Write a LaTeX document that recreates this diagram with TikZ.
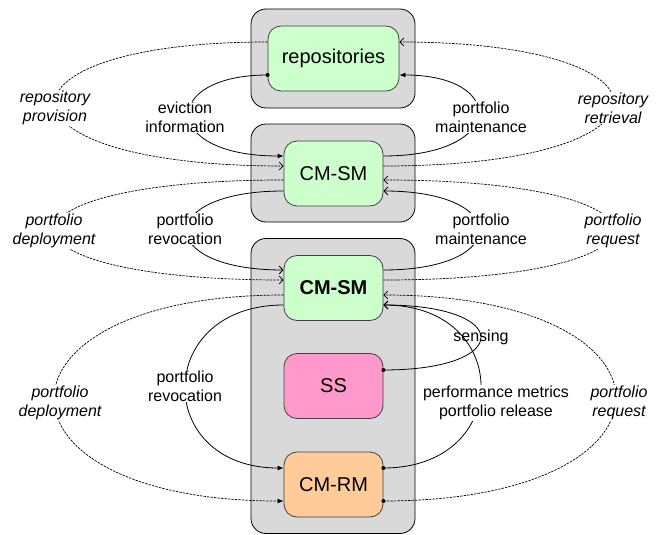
\documentclass[tikz,border=0pt]{standalone}
\usepackage{fontspec}
\setmainfont{Liberation Sans}
\usetikzlibrary{arrows.meta,calc}
\definecolor{boxgray}{HTML}{D9D9D9}
\definecolor{ngreen}{HTML}{CCFFCC}
\definecolor{npink}{HTML}{FF99CC}
\definecolor{norange}{HTML}{FFCC99}
\definecolor{nborder}{HTML}{404040}
\begin{document}
\begin{tikzpicture}[x=1pt,y=-1pt,
 outerbox/.style={draw=black, line width=0.8pt, fill=boxgray, rounded corners=15pt, minimum width=164pt, inner sep=0pt},
 inner/.style={draw=nborder, line width=0.8pt, rounded corners=13pt, minimum width=99pt, minimum height=65pt, font=\fontsize{20}{24}\selectfont, inner sep=0pt},
 conn/.style={line width=0.8pt},
 dconn/.style={line width=0.7pt, dash pattern=on 2.4pt off 1.1pt},
 fa/.style={-{Latex[length=6pt,width=5pt]}},
 oa/.style={-{Straight Barb[length=4pt,width=8pt]}},
 lab/.style={fill=white, align=center, font=\fontsize{16}{19}\selectfont, inner sep=1pt},
 ilab/.style={fill=white, align=center, font=\fontsize{16}{19}\selectfont\itshape, inner sep=1pt},
]
\useasboundingbox (0,0) rectangle (667,535);

% outer boxes
\node[outerbox, minimum height=99pt] (b1) at (333,58.5) {};
\node[outerbox, minimum height=98pt] (b2) at (333,173) {};
\node[outerbox, minimum height=295pt] (b3) at (333,386) {};

% inner nodes
\node[inner, fill=ngreen, minimum width=131pt] (repo) at (333.5,58.5) {repositories};
\node[inner, fill=ngreen] (cmsm1) at (333.5,173.5) {CM-SM};
\node[inner, fill=ngreen, font=\fontsize{20}{24}\selectfont\bfseries] (cmsm2) at (333.5,288) {CM-SM};
\node[inner, fill=npink] (ss) at (333.5,386) {SS};
\node[inner, fill=norange] (cmrm) at (333.5,484.5) {CM-RM};

% group 1
\draw[dconn,oa] ([yshift=16.5pt]repo.west) .. controls +(-285.5,0) and +(-302.5,0) .. ([yshift=7.5pt]cmsm1.west);
\draw[conn,fa] ([yshift=-16.5pt]repo.west) .. controls +(-106.8,0) and +(-123.8,0) .. ([yshift=17.5pt]cmsm1.west);
\draw[conn,fa] ([yshift=17.5pt]cmsm1.east) .. controls +(122.8,0) and +(107.8,0) .. ([yshift=-16.5pt]repo.east);
\draw[dconn,oa] ([yshift=7.5pt]cmsm1.east) .. controls +(304.2,0) and +(289.2,0) .. ([yshift=16.5pt]repo.east);

% group 2
\draw[dconn,oa] ([yshift=-6.5pt]cmsm1.west) .. controls +(-305.3,0) and +(-305.3,0) .. ([yshift=8pt]cmsm2.west);
\draw[conn,oa] ([yshift=-17.5pt]cmsm1.west) .. controls +(-129.3,0) and +(-129.3,0) .. ([yshift=18pt]cmsm2.west);
\draw[conn,oa] ([yshift=18pt]cmsm2.east) .. controls +(128,0) and +(128,0) .. ([yshift=-17.5pt]cmsm1.east);
\draw[dconn,oa] ([yshift=8pt]cmsm2.east) .. controls +(306.7,0) and +(306.7,0) .. ([yshift=-6.5pt]cmsm1.east);

% group 3
\draw[dconn,fa] ([yshift=-7pt]cmsm2.west) .. controls +(-305.3,0) and +(-305.3,0) .. ([yshift=-16.5pt]cmrm.west);
\draw[conn,fa] ([yshift=-17pt]cmsm2.west) .. controls +(-130.7,0) and +(-130.7,0) .. ([yshift=16.5pt]cmrm.west);
\draw[conn,oa] ([yshift=16.5pt]cmrm.east) .. controls +(130,0) and +(130,0) .. ([yshift=-17pt]cmsm2.east);
\draw[conn,oa] ([yshift=16pt]ss.east) .. controls +(130,0) and +(130,0) .. ([yshift=-17pt]cmsm2.east);
\draw[dconn,oa] ([yshift=-16.5pt]cmrm.east) .. controls +(310,0) and +(310,0) .. ([yshift=-7pt]cmsm2.east);

% dots
\fill ([yshift=-16.5pt]repo.west) circle (2pt);
\fill ([yshift=16pt]ss.east) circle (2pt);
\fill ([yshift=16.5pt]cmrm.east) circle (2pt);
\fill ([yshift=-16.5pt]cmrm.east) circle (2pt);

% labels
\node[ilab] (l1) at (55,108) {repository\\provision};
\node[lab] (l2) at (185,117) {eviction\\information};
\node[lab] (l3) at (481,117) {portfolio\\maintenance};
\node[ilab] (l4) at (613,108) {repository\\retrieval};
\node[ilab] (l5) at (54,231) {portfolio\\deployment};
\node[lab] (l6) at (185,229) {portfolio\\revocation};
\node[lab] (l7) at (481,229) {portfolio\\maintenance};
\node[ilab] (l8) at (613,231) {portfolio\\request};
\node[ilab] (l9) at (60,403) {portfolio\\deployment};
\node[lab] (l10) at (185,386) {portfolio\\revocation};
\node[lab] (l11) at (496,403) {performance metrics\\portfolio release};
\node[ilab] (l12) at (619,403) {portfolio\\request};
\node[font=\fontsize{16}{19}\selectfont, inner sep=1pt] (l13) at (481,337) {sensing};
\end{tikzpicture}
\end{document}
